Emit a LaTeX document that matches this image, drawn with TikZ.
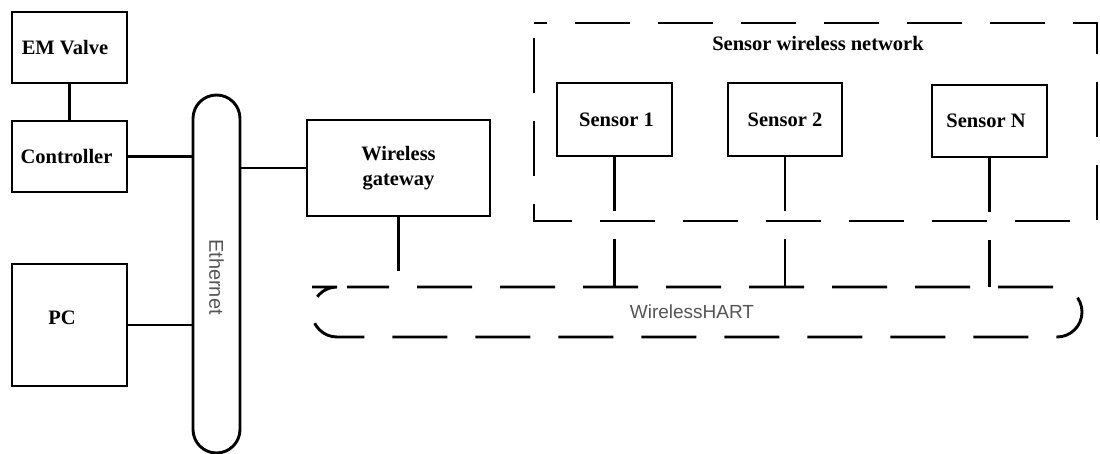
\documentclass[tikz,border=0pt]{standalone}
\usepackage{fontspec}
\setmainfont{Liberation Serif}
\newfontfamily\labelsans{Liberation Sans}
\usetikzlibrary{calc}
\definecolor{labelgray}{RGB}{85,85,85}
\tikzset{
  boxtext/.style={font=\fontsize{20.5}{25}\selectfont\bfseries, inner sep=0pt},
  box/.style={draw, line width=2.9pt, minimum width=115pt, minimum height=72pt, inner sep=0pt, outer sep=0pt, boxtext},
  link/.style={line width=2.9pt},
  dashlink/.style={line width=2.9pt, dash pattern=on 55pt off 28pt},
  graylabel/.style={font=\labelsans\fontsize{19}{23}\selectfont, text=labelgray},
}
\begin{document}
\begin{tikzpicture}[x=1pt,y=-1pt]
\useasboundingbox (0,0) rectangle (1100,454);

% left side
\node[box, minimum height=71pt, label={[boxtext, xshift=-4.5pt]center:EM Valve}] (valve) at (69.5,47.5) {};
\node[box, minimum height=71pt, label={[boxtext, xshift=-3pt]center:Controller}] (ctrl) at (69.5,156.5) {};
\node[box, minimum height=122pt, label={[boxtext, xshift=-7.5pt, yshift=7pt]center:PC}] (pc) at (69.5,325) {};
\node[draw, line width=2.9pt, rounded corners=23.5pt, minimum width=47pt, minimum height=358pt, inner sep=0pt, outer sep=0pt, graylabel, font=\labelsans\fontsize{20}{24}\selectfont] (eth) at (216.5,274) {\rotatebox{-90}{\kern6pt Ethernet}};

% gateway
\node[box, minimum width=183pt, minimum height=96pt, align=center] (gw) at (398.5,168) {Wireless\\gateway};

% sensor network
\coordinate (netnw) at (534,23);
\coordinate (netse) at (1097,221);
\draw[dashlink, dash phase=68pt] (netnw) -- (netnw |- netse) -- (netse) -- (netse |- netnw) -- cycle;
\node[boxtext] (nettitle) at (818,43) {Sensor wireless network};
\node[box, minimum height=73pt] (s1) at (614.5,119.5) {\kern4pt Sensor 1};
\node[box, minimum width=114pt, minimum height=73pt] (s2) at (785,119.5) {Sensor 2};
\node[box, minimum height=72pt] (sN) at (989.5,121) {\kern-7pt Sensor N};

% WirelessHART
\node[minimum width=770pt, minimum height=50pt, inner sep=0pt, outer sep=0pt, graylabel] (hart) at (697,312) {\kern-10pt WirelessHART};
\draw[dashlink, dash phase=28pt, rounded corners=25pt] ($(hart.north west)+(25,0)$) -- (hart.north east) -- (hart.south east) -- (hart.south west) -- (hart.north west) -- cycle;

% connectors
\draw[link] (valve.south) -- (ctrl.north);
\draw[link] (ctrl.east) -- (ctrl.east -| eth.west);
\draw[link] (pc.east) -- (pc.east -| eth.west);
\draw[link] (gw.west) -- (gw.west -| eth.east);
\draw[dashlink] (gw.south) -- (gw.south |- hart.north);
\draw[dashlink] (s1.south) -- (s1.south |- hart.north);
\draw[dashlink] (s2.south) -- (s2.south |- hart.north);
\draw[dashlink] (sN.south) -- (sN.south |- hart.north);
\end{tikzpicture}
\end{document}
